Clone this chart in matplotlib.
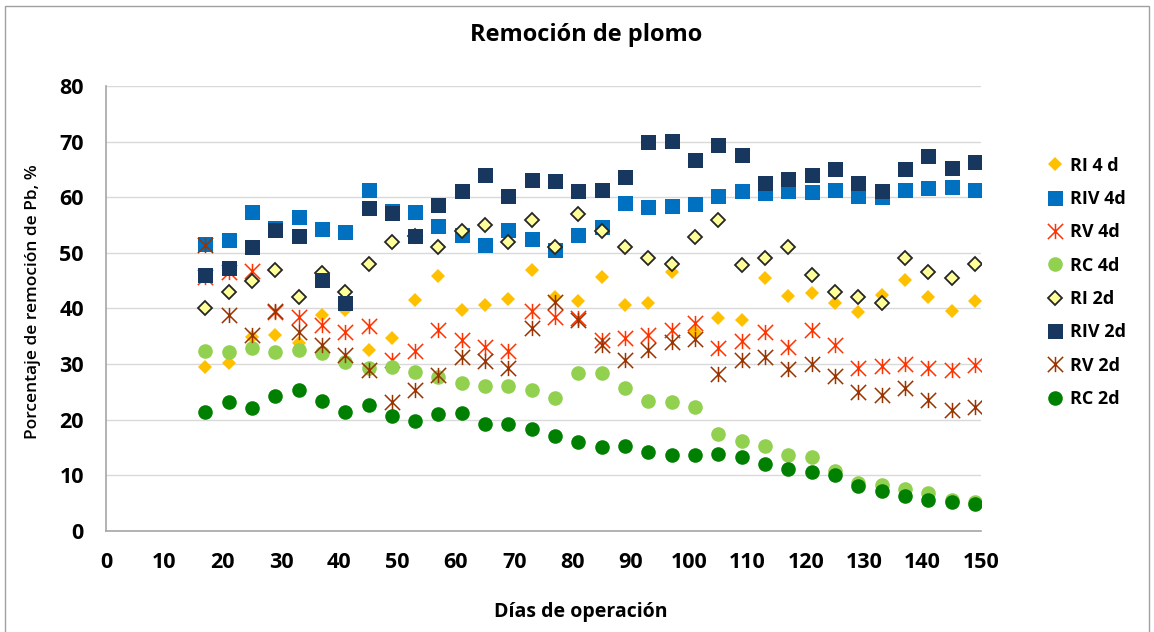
import matplotlib
matplotlib.use("Agg")
import matplotlib.pyplot as plt
from matplotlib.path import Path
from matplotlib.patches import Rectangle

plt.rcParams["font.family"] = ["Open Sans", "DejaVu Sans"]

# days of operation
dias = [17, 21, 25, 29, 33, 37, 41, 45, 49, 53, 57, 61, 65, 69, 73, 77, 81,
        85, 89, 93, 97, 101, 105, 109, 113, 117, 121, 125, 129, 133, 137, 141, 145, 149]

ri_4d = [29.4, 30.2, 34.9, 35.3, 33.8, 38.8, 39.7, 32.5, 34.6, 41.5, 45.9, 39.7,
         40.6, 41.7, 46.9, 42.0, 41.4, 45.7, 40.6, 41.0, 46.6, 35.8, 38.2, 37.9,
         45.4, 42.2, 42.8, 41.0, 39.3, 42.4, 45.2, 42.0, 39.6, 41.4]
riv_4d = [51.6, 52.3, 57.4, 54.4, 56.4, 54.3, 53.8, 61.3, 57.6, 57.4, 54.8, 53.2,
          51.4, 54.1, 52.5, 50.6, 53.2, 54.7, 59.0, 58.3, 58.4, 58.8, 60.2, 61.2,
          60.7, 61.2, 61.0, 61.3, 60.2, 60.1, 61.3, 61.7, 61.9, 61.3]
rv_4d = [45.7, 46.6, 46.7, 39.3, 38.4, 37.0, 35.8, 36.9, 30.7, 32.3, 36.2, 34.4,
         33.1, 32.4, 39.5, 38.4, 38.3, 34.4, 34.6, 35.3, 36.1, 37.3, 32.8, 34.2,
         35.7, 33.1, 36.2, 33.5, 29.2, 29.7, 30.0, 29.2, 28.9, 29.9]
rc_4d = [32.4, 32.2, 32.8, 32.2, 32.6, 32.0, 30.4, 29.3, 29.4, 28.5, 27.6, 26.5,
         26.0, 26.0, 25.4, 23.8, 28.4, 28.4, 25.7, 23.3, 23.2, 22.2, 17.4, 16.2,
         15.2, 13.6, 13.2, 10.8, 8.5, 8.2, 7.5, 6.8, 5.5, 5.2]
ri_2d = [40.0, 43.0, 45.0, 47.0, 42.0, 46.3, 43.0, 48.0, 52.0, 53.0, 51.0, 54.0,
         55.0, 51.9, 56.0, 51.0, 57.0, 54.0, 51.0, 49.0, 48.0, 52.9, 56.0, 47.9,
         49.0, 51.0, 46.0, 42.9, 42.0, 41.0, 49.0, 46.5, 45.4, 48.0]
riv_2d = [46.0, 47.2, 51.1, 54.2, 53.1, 45.1, 41.0, 58.1, 57.2, 53.1, 58.6, 61.1,
          64.0, 60.2, 63.1, 62.9, 61.1, 61.3, 63.7, 69.9, 70.1, 66.7, 69.4, 67.6,
          62.6, 63.3, 64.0, 65.1, 62.6, 61.2, 65.1, 67.4, 65.3, 66.4]
rv_2d = [51.5, 38.9, 35.2, 39.5, 35.7, 33.4, 31.6, 28.9, 23.2, 25.4, 28.0, 31.2,
         30.6, 29.2, 36.4, 41.2, 38.0, 33.4, 30.7, 32.5, 33.9, 34.5, 28.2, 30.7,
         31.2, 29.1, 30.0, 27.9, 24.9, 24.5, 25.6, 23.5, 21.7, 22.3]
rc_2d = [21.3, 23.1, 22.1, 24.3, 25.3, 23.3, 21.3, 22.7, 20.7, 19.7, 21.0, 21.1,
         19.2, 19.2, 18.3, 17.1, 16.0, 15.1, 15.3, 14.1, 13.7, 13.6, 13.8, 13.2,
         12.0, 11.1, 10.6, 10.0, 8.1, 7.2, 6.2, 5.5, 5.2, 4.8]

# excel-like "star" marker: an X with a vertical bar
star = Path([(-1, -1), (1, 1), (-1, 1), (1, -1), (0, -1), (0, 1)],
            [Path.MOVETO, Path.LINETO, Path.MOVETO, Path.LINETO, Path.MOVETO, Path.LINETO])

series = [
    ("RI 4 d", ri_4d, dict(marker="D", ms=6.8, mfc="#FFC000", mec="#FFC000", mew=0)),
    ("RIV 4d", riv_4d, dict(marker="s", ms=10.8, mfc="#0070C0", mec="#0070C0", mew=0)),
    ("RV 4d", rv_4d, dict(marker=star, ms=11, mfc="none", mec="#FF3300", mew=1.1)),
    ("RC 4d", rc_4d, dict(marker="o", ms=10.5, mfc="#92D050", mec="#92D050", mew=0)),
    ("RI 2d", ri_2d, dict(marker="D", ms=7.6, mfc="#FFFF99", mec="#262626", mew=1.3)),
    ("RIV 2d", riv_2d, dict(marker="s", ms=10.8, mfc="#17375E", mec="#17375E", mew=0)),
    ("RV 2d", rv_2d, dict(marker=star, ms=11, mfc="none", mec="#993300", mew=1.1)),
    ("RC 2d", rc_2d, dict(marker="o", ms=10.5, mfc="#008000", mec="#008000", mew=0)),
]

fig = plt.figure(figsize=(11.54, 6.32), dpi=100)
ax = fig.add_axes([0.0919, 0.1603, 0.7581, 0.7033])

for label, vals, style in series:
    ax.plot(dias, vals, linestyle="none", label=label, **style)

ax.set_xlim(0, 150)
ax.set_ylim(0, 80)
ax.set_xticks(range(0, 151, 10))
ax.set_yticks(range(0, 81, 10))
ax.grid(axis="y", color="#D9D9D9", lw=1)
ax.set_axisbelow(True)
for s in ("top", "right"):
    ax.spines[s].set_visible(False)
for s in ("left", "bottom"):
    ax.spines[s].set_color("#A6A6A6")
    ax.spines[s].set_linewidth(1.2)
ax.tick_params(axis="x", length=0, pad=15, labelsize=15.5)
ax.tick_params(axis="y", length=0, pad=16, labelsize=15.5)
for t in ax.get_xticklabels() + ax.get_yticklabels():
    t.set_fontweight("bold")

fig.text(0.508, 0.945, "Remoción de plomo", ha="center", va="center",
         fontsize=17, fontweight="bold")
fig.text(0.503, 0.032, "Días de operación", ha="center", va="center",
         fontsize=14, fontweight="bold")
fig.text(0.029, 0.522, "Porcentaje de remoción de Pb, %", ha="center", va="center",
         rotation=90, fontsize=12.5, fontweight="semibold")

leg = fig.legend(loc="upper left", bbox_to_anchor=(0.906, 0.752), frameon=False,
                 numpoints=1, handlelength=1.0, handletextpad=0.35,
                 labelspacing=0.85, borderpad=0, borderaxespad=0,
                 prop={"size": 13, "weight": "bold"})

fig.patches.append(Rectangle((0.004, -0.01), 0.992, 1.0, transform=fig.transFigure,
                             fill=False, edgecolor="#A0A0A0", lw=1))

fig.savefig("out.png", dpi=100)
